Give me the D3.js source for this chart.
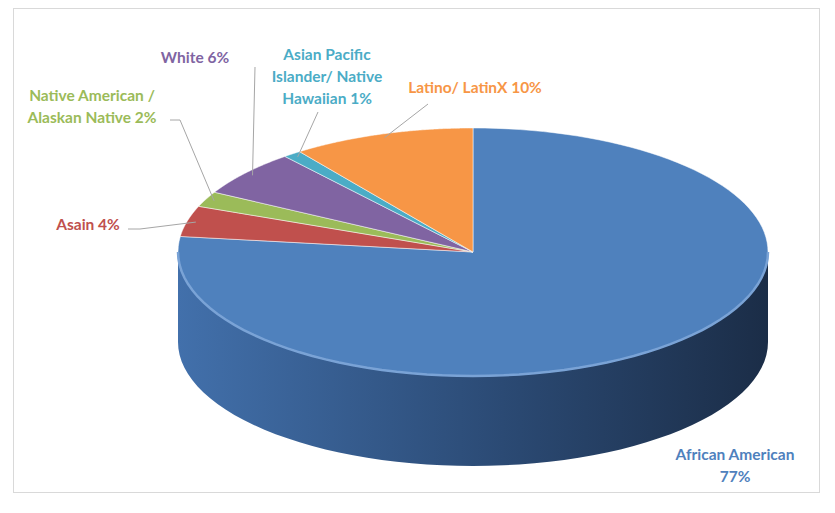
<!DOCTYPE html>
<html>
<head>
<meta charset="utf-8">
<script src="https://cdn.jsdelivr.net/npm/d3@7"></script>
<style>
  body { margin: 0; background: #fff; }
  text { font-family: Lato, "Open Sans", sans-serif; font-weight: bold; font-size: 15.5px; }
</style>
</head>
<body>
<svg id="chart" width="835" height="513"></svg>
<script>
// Data, clockwise from 12 o'clock
const categories = ['African American', 'Asain', 'Native American / Alaskan Native', 'White', 'Asian Pacific Islander/ Native Hawaiian', 'Latino/ LatinX'];
const values = [77, 4, 2, 6, 1, 10];
const labelLines = [['African American', '77%'], ['Asain 4%'], ['Native American /', 'Alaskan Native 2%'], ['White 6%'], ['Asian Pacific', 'Islander/ Native', 'Hawaiian 1%'], ['Latino/ LatinX 10%']];
const colors = ['#4f81bd', '#c0504d', '#9bbb59', '#8064a2', '#4bacc6', '#f79646'];

const svg = d3.select('#chart');
svg.append('rect').attr('x', 13.5).attr('y', 8.5).attr('width', 806).attr('height', 484)
    .attr('fill', '#fff').attr('stroke', '#d9d9d9');

const cx = 473, cy = 252, rx = 295, ry = 124, depth = 90;
const pt = (t, dy = 0) => [cx + rx * Math.sin(t), cy - ry * Math.cos(t) + dy];

const pie = d3.pie().sort(null).value(d => d);
const arcs = pie(values);

const defs = svg.append('defs');
const sideGrad = defs.append('linearGradient').attr('id', 'side').attr('x1', '0%').attr('x2', '100%');
sideGrad.append('stop').attr('offset', '0%').attr('stop-color', '#4270ab');
sideGrad.append('stop').attr('offset', '55%').attr('stop-color', '#2b4a74');
sideGrad.append('stop').attr('offset', '100%').attr('stop-color', '#1b2d47');

function arcPath(a0, a1, dy, n = 60) {
    return d3.range(n + 1).map(i => pt(a0 + (a1 - a0) * i / n, dy));
}

// Side walls (front half only: pi/2..3pi/2)
arcs.forEach((a, i) => {
    const s = Math.max(a.startAngle, Math.PI / 2), e = Math.min(a.endAngle, 3 * Math.PI / 2);
    if (e <= s) return;
    const top = arcPath(s, e, 0), bot = arcPath(s, e, depth).reverse();
    svg.append('path')
        .attr('d', d3.line()(top.concat(bot)) + 'Z')
        .attr('fill', i === 0 ? 'url(#side)' : d3.color(colors[i]).darker(1));
});

// Top faces
arcs.forEach((a, i) => {
    const p = [[cx, cy]].concat(arcPath(a.startAngle, a.endAngle, 0, 120));
    svg.append('path')
        .attr('d', d3.line()(p) + 'Z')
        .attr('fill', colors[i])
        .attr('stroke', '#fff').attr('stroke-width', 1).attr('stroke-opacity', 0.5);
});
// rim highlight
svg.append('path')
    .attr('d', d3.line()(arcPath(Math.PI / 2, 3 * Math.PI / 2, 0)))
    .attr('fill', 'none').attr('stroke', '#7aa3d6').attr('stroke-width', 2.5);

// Labels
const labelPos = [
    { x: 735, y: 460, line: null },
    { x: 88, y: 230, line: [[128, 229], [140, 229]] },
    { x: 92, y: 101, line: [[170, 120], [180, 120]] },
    { x: 195, y: 63, line: [[255, 67], [255, 67]] },
    { x: 327, y: 60, line: [[318, 112], [318, 112]] },
    { x: 475, y: 93, line: [[428, 104], [428, 104]] }
];
arcs.forEach((a, i) => {
    const lp = labelPos[i];
    if (lp.line) {
        const mid = (a.startAngle + a.endAngle) / 2;
        const edge = pt(mid, 0);
        const inner = [cx + (edge[0] - cx) * 0.97, cy + (edge[1] - cy) * 0.97];
        svg.append('path')
            .attr('d', d3.line()(lp.line.concat([inner])))
            .attr('fill', 'none').attr('stroke', '#a6a6a6').attr('stroke-width', 1);
    }
    const t = svg.append('text').attr('text-anchor', 'middle').attr('fill', colors[i]);
    labelLines[i].forEach((s, k) => t.append('tspan').attr('x', lp.x).attr('y', lp.y + k * 22).text(s));
});
</script>
</body>
</html>
